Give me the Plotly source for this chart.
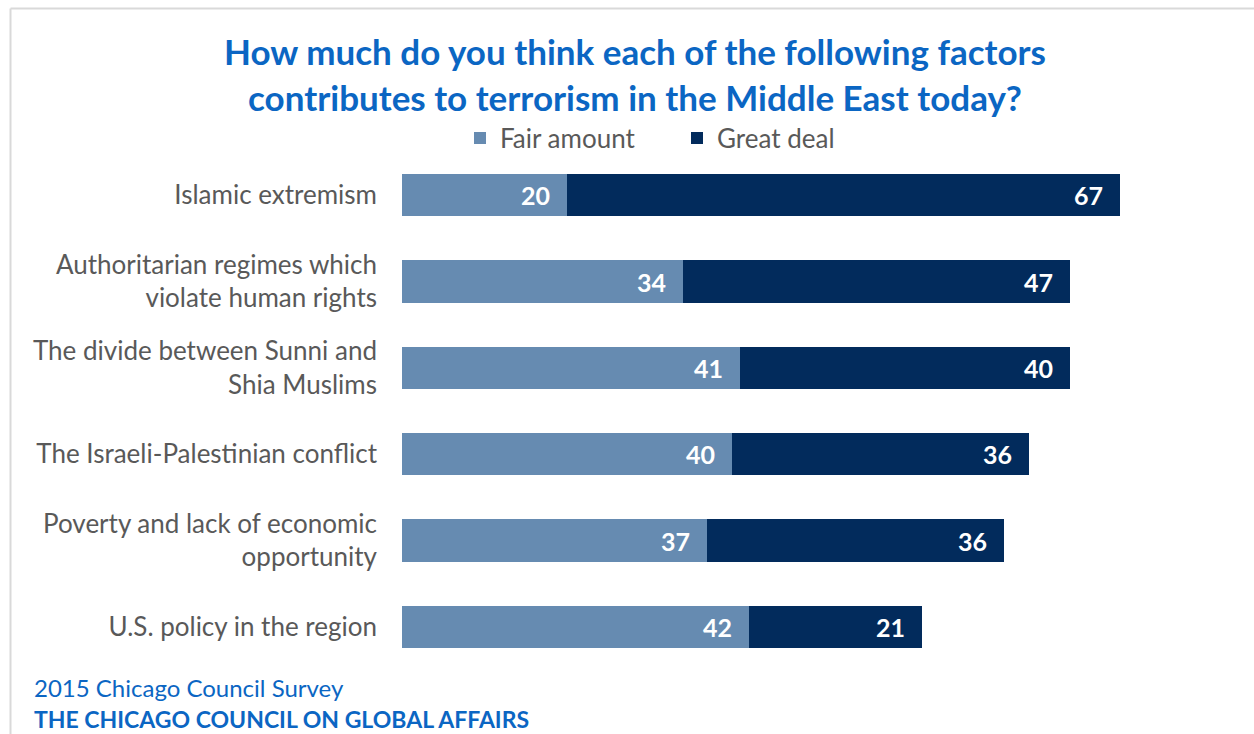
import plotly.graph_objects as go

# Survey factors (top to bottom) and percentages
factors = [
    "Islamic extremism",
    "Authoritarian regimes which<br>violate human rights",
    "The divide between Sunni and<br>Shia Muslims",
    "The Israeli-Palestinian conflict",
    "Poverty and lack of economic<br>opportunity",
    "U.S. policy in the region",
]
fair_amount = [20, 34, 41, 40, 37, 42]
great_deal = [67, 47, 40, 36, 36, 21]

W, H = 1254, 734
L, R, T, B = 402, 27, 152, 64
PW, PH = W - L - R, H - T - B

LIGHT = "#668BB1"
DARK = "#022B5C"
BLUE = "#0B66C3"
GREY = "#595959"
FONT = "Lato, 'Open Sans', sans-serif"


def px_x(px):
    return (px - L) / PW


def px_y(py):
    return (H - B - py) / PH


fig = go.Figure()
fig.add_trace(go.Bar(
    y=factors, x=fair_amount, name="Fair amount", orientation="h",
    marker=dict(color=LIGHT, line=dict(width=0)),
))
fig.add_trace(go.Bar(
    y=factors, x=great_deal, name="Great deal", orientation="h",
    marker=dict(color=DARK, line=dict(width=0)),
))

annotations = []
for f, a, g in zip(factors, fair_amount, great_deal):
    for end, val in ((a, a), (a + g, g)):
        annotations.append(dict(
            x=end, y=f, xref="x", yref="y", text=f"<b>{val}</b>",
            showarrow=False, xanchor="right", xshift=-15,
            font=dict(family=FONT, size=25, color="white"),
        ))

annotations += [
    dict(x=px_x(32), y=px_y(687), xref="paper", yref="paper",
         text="2015 Chicago Council Survey", showarrow=False,
         xanchor="left", yanchor="middle",
         font=dict(family=FONT, size=24, color=BLUE)),
    dict(x=px_x(32), y=px_y(719), xref="paper", yref="paper",
         text="<b>THE CHICAGO COUNCIL ON GLOBAL AFFAIRS</b>", showarrow=False,
         xanchor="left", yanchor="middle",
         font=dict(family=FONT, size=23, color=BLUE)),
]

shapes = [
    dict(type="line", xref="paper", yref="paper",
         x0=px_x(10.5), x1=px_x(W), y0=px_y(8.5), y1=px_y(8.5),
         line=dict(color="#D9D9D9", width=2)),
    dict(type="line", xref="paper", yref="paper",
         x0=px_x(10.5), x1=px_x(10.5), y0=px_y(8.5), y1=px_y(H),
         line=dict(color="#D9D9D9", width=2)),
]

fig.update_layout(
    width=W, height=H,
    barmode="stack", bargap=0.51,
    margin=dict(l=L, r=R, t=T, b=B, autoexpand=False),
    paper_bgcolor="white", plot_bgcolor="white",
    title=dict(
        text="<b>How much do you think each of the following factors<br>"
             "contributes to terrorism in the Middle East today?</b>",
        x=635 / W, xref="container", xanchor="center",
        y=1 - 65 / H, yref="container", yanchor="top",
        font=dict(family=FONT, size=35, color=BLUE),
    ),
    legend=dict(
        orientation="h", x=460 / W, xref="container", xanchor="left",
        y=1 - 138 / H, yref="container", yanchor="middle",
        font=dict(family=FONT, size=26, color=GREY),
        entrywidth=172, entrywidthmode="pixels",
        itemclick=False, traceorder="normal",
    ),
    xaxis=dict(range=[0, 100], visible=False, fixedrange=True),
    yaxis=dict(
        categoryorder="array", categoryarray=factors, autorange="reversed",
        showgrid=False, zeroline=False, showline=False, ticks="",
        ticklabelstandoff=24,
        tickfont=dict(family=FONT, size=26, color=GREY),
    ),
    annotations=annotations,
    shapes=shapes,
    showlegend=True,
)

fig.write_html("out.html")
